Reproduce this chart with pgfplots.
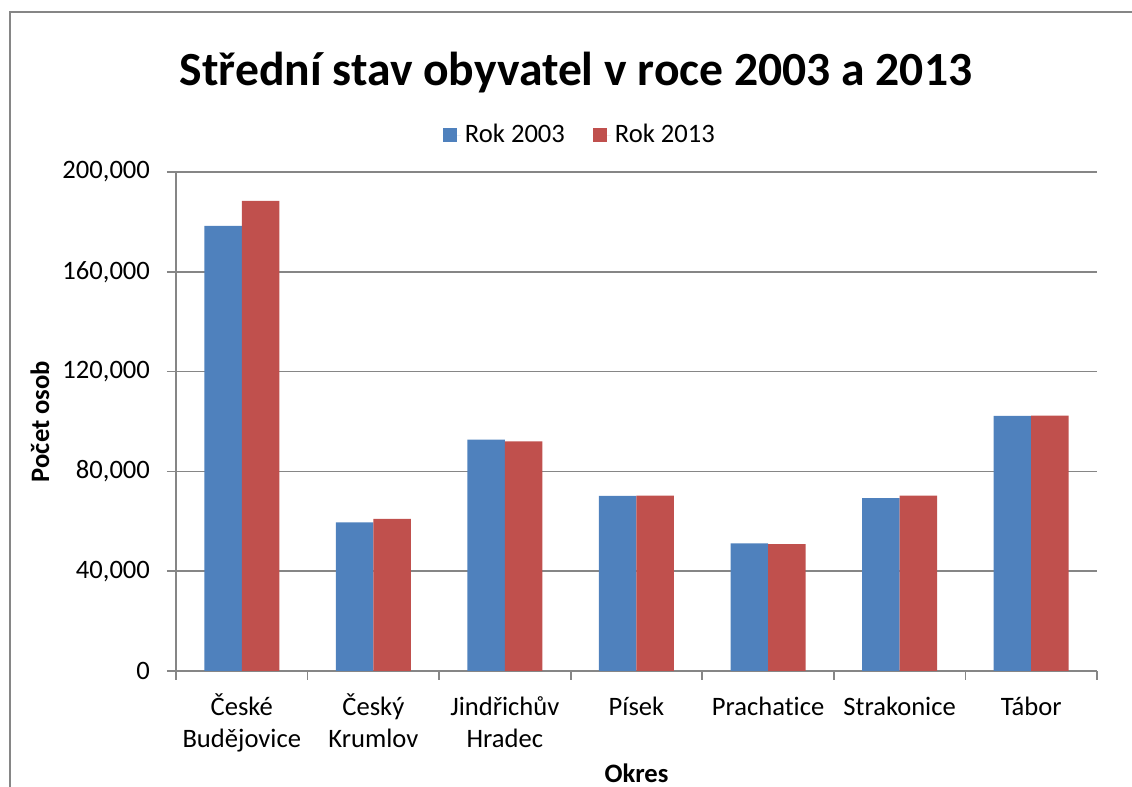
\documentclass[border=0pt]{standalone}
\usepackage{pgfplots}
\pgfplotsset{compat=1.18}
\usepackage{fontspec}
\setmainfont{Carlito}[Ligatures=NoCommon]
\definecolor{xlblue}{RGB}{79,129,189}
\definecolor{xlred}{RGB}{192,80,77}
\definecolor{xlgrid}{RGB}{134,134,134}
\newcommand{\lbl}{\fontsize{13.3}{16}\selectfont}
\newcommand{\hs}{\rule{0pt}{12pt}}

\begin{document}
\begin{tikzpicture}
\useasboundingbox (0pt,0pt) rectangle (566pt,393.5pt);
% outer chart frame (only left and top edges are visible)
\draw[xlgrid, line width=1pt] (5pt,-20pt) -- (5pt,387.5pt) -- (600pt,387.5pt);
\node[font=\fontsize{23.8}{28}\selectfont\bfseries, anchor=base] at (288pt,350.5pt)
  {Střední stav obyvatel v roce 2003 a 2013};
\begin{axis}[
  at={(88pt,58pt)}, anchor=south west,
  scale only axis, width=460.5pt, height=249.5pt,
  ybar=0pt, bar width=18.75pt,
  xmin=-0.5, xmax=6.5, ymin=0, ymax=200000,
  axis x line*=bottom, axis y line*=left,
  axis line style={xlgrid, line width=0.8pt, -},
  scaled y ticks=false,
  ytick={0,40000,80000,120000,160000,200000},
  yticklabels={0,{40,000},{80,000},{120,000},{160,000},{200,000}},
  ymajorgrids, grid style={xlgrid, line width=0.8pt},
  xtick={0,...,6},
  xticklabels={{\hs České\\Budějovice},{\hs Český\\Krumlov},{\hs Jindřichův\\Hradec},{\hs Písek},{\hs Prachatice},{\hs Strakonice},{\hs Tábor}},
  minor xtick={-0.5,0.5,...,6.5},
  tick align=outside, major tick length=4.5pt, minor tick length=4.5pt,
  major x tick style={draw=none},
  tick style={xlgrid, line width=0.8pt},
  ticklabel style={font=\lbl},
  xticklabel style={align=center, anchor=north, yshift=-2pt},
  yticklabel style={anchor=east, xshift=-5pt},
  xlabel={\textbf{Okres}},
  ylabel={\textbf{Počet osob}},
  label style={font=\lbl},
  xlabel style={at={(0.5,0)}, anchor=center, yshift=-51pt},
  ylabel style={at={(-0.1477,0.5)}, anchor=center},
  legend columns=2,
  legend style={at={(0.4397,1.074)}, anchor=center, draw=none, fill=none,
    font=\lbl, /tikz/every even column/.append style={column sep=12pt}},
  legend image code/.code={\fill[#1] (0pt,-3.5pt) rectangle (7pt,3.5pt);
    \path (0pt,0pt) -- (9pt,0pt);},
  clip=false,
]
\addplot[fill=xlblue, draw=none] coordinates {
  (0,178400) (1,59600) (2,92700) (3,70200) (4,51200) (5,69300) (6,102300)};
\addplot[fill=xlred, draw=none] coordinates {
  (0,188400) (1,61000) (2,92000) (3,70300) (4,50800) (5,70300) (6,102400)};
\legend{Rok 2003,Rok 2013}
\end{axis}
\end{tikzpicture}
\end{document}
